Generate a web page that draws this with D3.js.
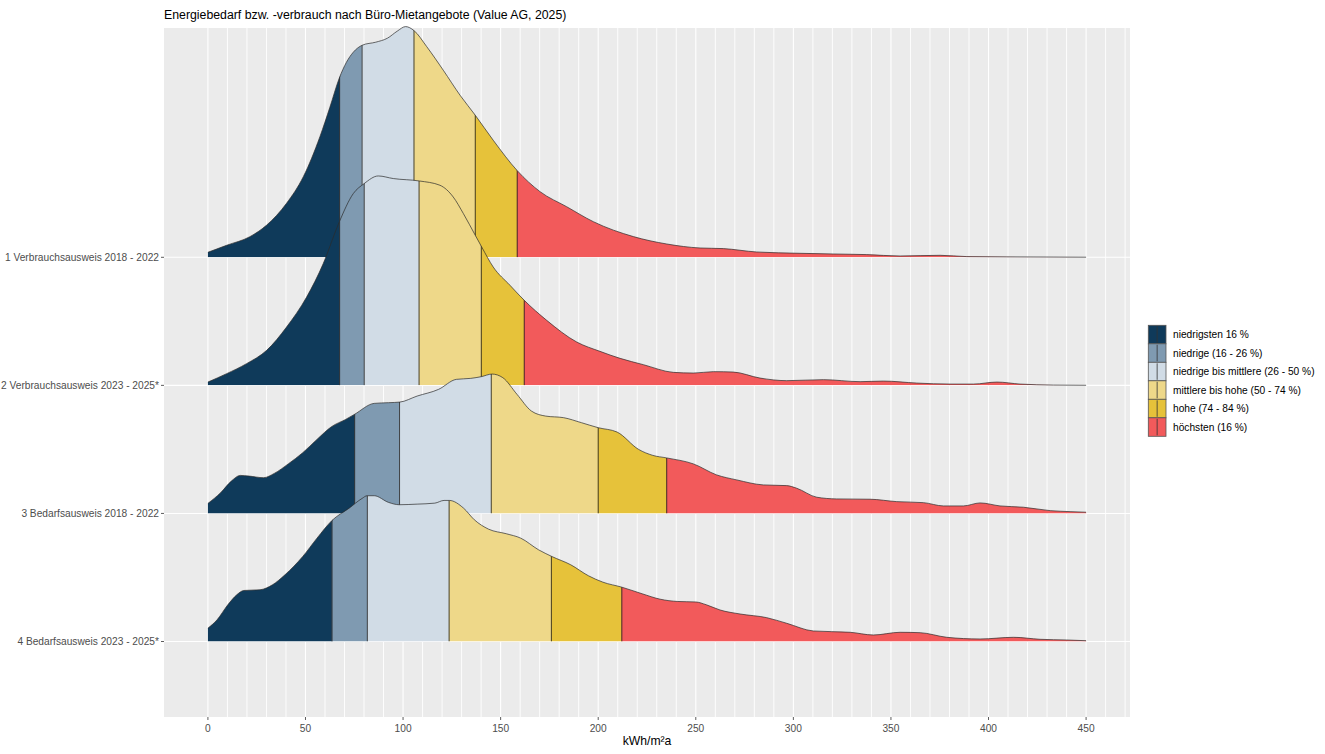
<!DOCTYPE html>
<html><head><meta charset="utf-8">
<script src="https://cdn.jsdelivr.net/npm/d3@7"></script>
<style>
body{margin:0;background:#fff;}
text{font-family:"Liberation Sans", Arial, sans-serif;}
</style>
</head><body>
<svg id="chart" width="1325" height="754"></svg>
<script>
// ---------------- data ----------------
const chartTitle = "Energiebedarf bzw. -verbrauch nach Büro-Mietangebote (Value AG, 2025)";
const xTitle = "kWh/m²a";
const categories = [
  "1 Verbrauchsausweis 2018 - 2022",
  "2 Verbrauchsausweis 2023 - 2025*",
  "3 Bedarfsausweis 2018 - 2022",
  "4 Bedarfsausweis 2023 - 2025*"
];
const xTicks = [0, 50, 100, 150, 200, 250, 300, 350, 400, 450];
const xGridBreaks = [0,10,20,30,40,50,60,70,80,90,100,110,120,130,140,150,160,170,180,190,200,210,220,230,240,250,260,270,280,290,300,310,320,330,340,350,360,370,380,390,400,410,420,430,440,450,460,470];

const legendLabels = [
  "niedrigsten 16 %",
  "niedrige (16 - 26 %)",
  "niedrige bis mittlere (26 - 50 %)",
  "mittlere bis hohe (50 - 74 %)",
  "hohe (74 - 84 %)",
  "höchsten (16 %)"
];
const bandColors = ["#0F3A5A", "#7F9AB1", "#D1DCE6", "#EED889", "#E6C23A", "#F25A5B"];

// density curves: [kWh/m²a, relative density (128 = one row height)]
const density1 = [[0,5],[9.6,12],[21.5,20.6],[30,32],[40.3,54],[48.9,80.6],[57.4,120.6],[62.5,150],[67.3,179],[71,195],[74.5,205],[79.1,212],[86,215],[92,219],[97,226],[101.3,230.6],[105.6,226.6],[112.1,210.6],[120.6,187],[129.2,162],[137,142],[146.2,117],[158.5,86.6],[170.2,65.6],[183.8,50.6],[197.5,35.6],[218,20.7],[235.1,13.3],[252.2,9.3],[264.1,8.7],[281.2,5.3],[303.4,4],[320.4,3.3],[337.6,2.7],[354.7,1.3],[375.2,2],[388.9,0.7],[429.9,0.3],[450,0.1]];
const density2 = [[0,3.3],[9.6,11.7],[19.8,21.7],[30.1,35],[40.3,58.3],[50.6,88.3],[59.1,121.7],[67.3,163.3],[74.5,191.7],[80.1,201.7],[87.3,209.3],[95,206.7],[108.3,204.3],[118.9,200],[125.7,188.3],[130.9,171.7],[137,150],[140.3,138.3],[146.2,118.3],[154.8,100],[162.1,85],[173.6,65],[189,43.3],[200.9,34],[211.2,27],[223.1,20.7],[238.5,13],[248.7,12.3],[259,13.7],[269.2,13.3],[282.9,7.3],[296.6,4.7],[315.4,5.7],[334.2,3.7],[346.1,4.3],[363.2,2.3],[380.3,1.3],[392.3,1.3],[404.3,3.3],[416.2,1.3],[433.3,0.3],[450,0.1]];
const density3 = [[0,10],[6.5,20.7],[12,32.3],[16.6,38],[21.2,37.3],[28.5,35.7],[34,40],[41.3,49.7],[48.6,60.7],[55.9,74],[63.3,86.7],[70.6,94],[75.1,99],[85.2,110],[92.6,110.7],[98.4,111.3],[107.2,117.3],[118.2,124],[127.3,134],[134.7,135],[140.1,136.7],[145.6,139.3],[151.1,135.7],[158.4,119],[165.8,102.3],[173.1,97.3],[182.3,95.7],[191.4,90.7],[200,85.7],[209.7,81.3],[220.7,64],[228,58],[235,55.5],[248.8,49.5],[260.7,38.5],[271,33.5],[284.6,28.5],[296.6,27.8],[301.7,25.2],[312,16.2],[322.2,14.5],[339.3,14.2],[353,11.8],[366.6,10.8],[376.9,7.5],[387.1,7.5],[395.7,10.5],[405.9,7.5],[417.9,6.2],[431.6,2.8],[441.8,1.8],[450,1.2]];
const density4 = [[0,13.3],[4.7,21.7],[10.2,36.7],[14.8,46.7],[18.4,51],[26.7,51.7],[33.1,56.7],[39.5,66.7],[48.6,85],[55.9,103.3],[63.6,121],[72.4,133.3],[79,143],[81.6,145.7],[85.2,145.7],[92.6,139],[98,136.7],[107.2,137.3],[116.3,138.3],[121,141],[123.7,141],[131,133.3],[136.5,121.7],[143.8,112.3],[152.9,107.7],[160.3,103.3],[169.4,91.7],[176.2,85],[185.9,76.7],[195,65.7],[202.4,59.3],[212.1,54.3],[222.5,47.7],[231.7,42.3],[240.8,40],[250,39.5],[255.4,36.7],[262.4,31.5],[272.7,27.5],[286.4,23.8],[296.6,18.2],[310.3,10.5],[329.1,9.2],[341,6.5],[354.7,9.2],[365,8.8],[378.6,4.2],[395.7,2.5],[412.8,4.2],[426.4,2.2],[440.1,1.5],[450,0.8]];
const densities = [density1, density2, density3, density4];

// quantile cut points (16, 26, 50, 74, 84 %) per group
const cuts1 = [67.5, 79, 105.6, 137, 158.5];
const cuts2 = [67.5, 80.1, 108.2, 140.1, 162.1];
const cuts3 = [75.2, 98.2, 145.2, 200, 235.1];
const cuts4 = [63.6, 81.7, 123.6, 176, 212.1];
const quantileCuts = [cuts1, cuts2, cuts3, cuts4];
const xMin = 0, xMax = 450;

// ---------------- layout ----------------
const svg = d3.select("#chart");
const panel = {left: 164, right: 1130, top: 28, bottom: 717};

const x = d3.scaleLinear()
  .domain([xMin - (xMax - xMin) * 0.05, xMax + (xMax - xMin) * 0.05])
  .range([panel.left, panel.right]);
const y = d3.scalePoint().domain(categories).range([257.3, 641.5]);
const h = d3.scaleLinear().domain([0, 128]).range([0, y.step()]);

// panel background
svg.append("rect").attr("x", panel.left).attr("y", panel.top)
  .attr("width", panel.right - panel.left).attr("height", panel.bottom - panel.top)
  .attr("fill", "#EBEBEB");

// grid
const grid = svg.append("g");
grid.selectAll("line.vx").data(xGridBreaks).join("line")
  .attr("x1", d => x(d)).attr("x2", d => x(d))
  .attr("y1", panel.top).attr("y2", panel.bottom)
  .attr("stroke", "#fff").attr("stroke-width", d => d % 50 === 0 ? 1.1 : 0.9);
grid.selectAll("line.hy").data(categories).join("line")
  .attr("x1", panel.left).attr("x2", panel.right)
  .attr("y1", d => y(d)).attr("y2", d => y(d))
  .attr("stroke", "#fff").attr("stroke-width", 1.1);

// ridges
const defs = svg.append("defs");
const ridgesG = svg.append("g");
categories.forEach((cat, i) => {
  const base = y(cat);
  const data = densities[i];
  const area = d3.area()
    .x(d => x(d[0])).y0(base).y1(d => base - h(d[1]))
    .curve(d3.curveMonotoneX);
  const line = d3.line()
    .x(d => x(d[0])).y(d => base - h(d[1]))
    .curve(d3.curveMonotoneX);
  const bounds = [xMin, ...quantileCuts[i], xMax];
  const g = ridgesG.append("g");
  const clipId = "ridgeclip" + i;
  defs.append("clipPath").attr("id", clipId).append("path").attr("d", area(data));
  for (let k = 0; k < bounds.length - 1; k++) {
    const segId = "seg" + i + "_" + k;
    defs.append("clipPath").attr("id", segId).append("rect")
      .attr("x", x(bounds[k]) - (k === 0 ? 2 : 0.3))
      .attr("y", panel.top - 10)
      .attr("width", x(bounds[k + 1]) - x(bounds[k]) + (k === 0 ? 2.3 : 0.6) + (k === bounds.length - 2 ? 2 : 0))
      .attr("height", base - panel.top + 10);
    g.append("path").attr("d", area(data))
      .attr("fill", bandColors[k])
      .attr("clip-path", `url(#${segId})`);
  }
  g.append("g").attr("clip-path", `url(#${clipId})`)
    .selectAll("line").data(quantileCuts[i]).join("line")
    .attr("x1", d => x(d)).attr("x2", d => x(d))
    .attr("y1", panel.top - 10).attr("y2", base)
    .attr("stroke", "#1a1a1a").attr("stroke-width", 0.8);
  g.append("path").attr("d", line(data))
    .attr("fill", "none").attr("stroke", "#2b2b2b").attr("stroke-width", 0.7);
});

// axes
const axisCol = "#4D4D4D";
const xAxis = svg.append("g");
xAxis.selectAll("line").data(xTicks).join("line")
  .attr("x1", d => x(d)).attr("x2", d => x(d))
  .attr("y1", panel.bottom).attr("y2", panel.bottom + 3)
  .attr("stroke", "#333").attr("stroke-width", 0.8);
xAxis.selectAll("text").data(xTicks).join("text")
  .attr("x", d => x(d)).attr("y", panel.bottom + 15)
  .attr("text-anchor", "middle").attr("font-size", 10.2).attr("fill", axisCol)
  .text(d => d);
const yAxis = svg.append("g");
yAxis.selectAll("line").data(categories).join("line")
  .attr("x1", panel.left - 3).attr("x2", panel.left)
  .attr("y1", d => y(d)).attr("y2", d => y(d))
  .attr("stroke", "#333").attr("stroke-width", 0.8);
yAxis.selectAll("text").data(categories).join("text")
  .attr("x", panel.left - 5).attr("y", d => y(d) + 3.6)
  .attr("text-anchor", "end").attr("font-size", 10.2).attr("fill", axisCol)
  .text(d => d);

svg.append("text").attr("x", (panel.left + panel.right) / 2).attr("y", 745)
  .attr("text-anchor", "middle").attr("font-size", 12.2).attr("fill", "#000").text(xTitle);
svg.append("text").attr("x", panel.left).attr("y", 19)
  .attr("font-size", 12.3).attr("fill", "#000").text(chartTitle);

// legend
const legend = svg.append("g").attr("transform", "translate(1148.3,325.3)");
const keyW = 17.7, keyH = 18.5;
legendLabels.forEach((lab, k) => {
  const gk = legend.append("g").attr("transform", `translate(0,${k * keyH})`);
  gk.append("rect").attr("x", 0).attr("y", 0).attr("width", keyW).attr("height", keyH)
    .attr("fill", bandColors[k]).attr("stroke", "#555").attr("stroke-width", 0.8);
  gk.append("line").attr("x1", keyW / 2).attr("x2", keyW / 2).attr("y1", 1).attr("y2", keyH - 1)
    .attr("stroke", "#333").attr("stroke-width", 0.8);
  gk.append("text").attr("x", keyW + 7).attr("y", keyH / 2 + 3.5)
    .attr("font-size", 10.2).attr("fill", "#000").text(lab);
});
</script>
</body></html>
